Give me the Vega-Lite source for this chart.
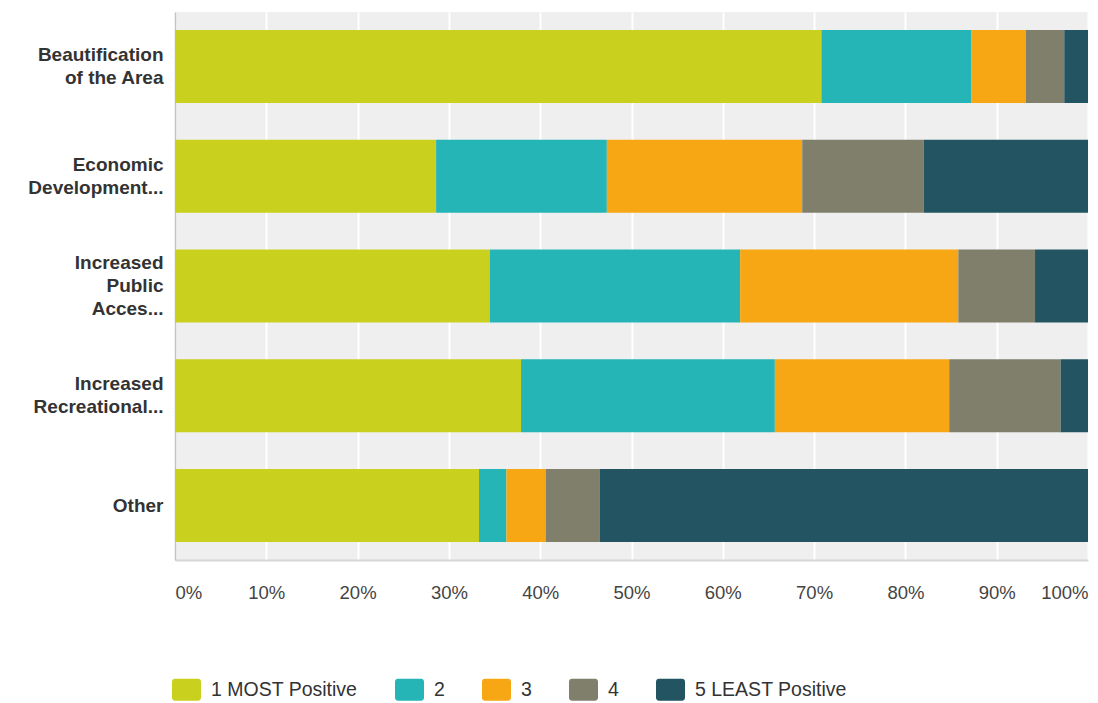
{
  "$schema": "https://vega.github.io/schema/vega-lite/v6.json",
  "width": 913,
  "height": 548,
  "autosize": {"type": "none"},
  "padding": {"left": 175, "top": 12, "right": 10, "bottom": 143},
  "background": "white",
  "data": {
    "values": [
      {"cat": "Beautification|of the Area", "rating": "1 MOST Positive", "pct": 70.8},
      {"cat": "Beautification|of the Area", "rating": "2", "pct": 16.4},
      {"cat": "Beautification|of the Area", "rating": "3", "pct": 6.0},
      {"cat": "Beautification|of the Area", "rating": "4", "pct": 4.2},
      {"cat": "Beautification|of the Area", "rating": "5 LEAST Positive", "pct": 2.6},
      {"cat": "Economic|Development...", "rating": "1 MOST Positive", "pct": 28.6},
      {"cat": "Economic|Development...", "rating": "2", "pct": 18.7},
      {"cat": "Economic|Development...", "rating": "3", "pct": 21.4},
      {"cat": "Economic|Development...", "rating": "4", "pct": 13.3},
      {"cat": "Economic|Development...", "rating": "5 LEAST Positive", "pct": 18.0},
      {"cat": "Increased|Public|Acces...", "rating": "1 MOST Positive", "pct": 34.5},
      {"cat": "Increased|Public|Acces...", "rating": "2", "pct": 27.4},
      {"cat": "Increased|Public|Acces...", "rating": "3", "pct": 23.9},
      {"cat": "Increased|Public|Acces...", "rating": "4", "pct": 8.4},
      {"cat": "Increased|Public|Acces...", "rating": "5 LEAST Positive", "pct": 5.8},
      {"cat": "Increased|Recreational...", "rating": "1 MOST Positive", "pct": 37.9},
      {"cat": "Increased|Recreational...", "rating": "2", "pct": 27.8},
      {"cat": "Increased|Recreational...", "rating": "3", "pct": 19.1},
      {"cat": "Increased|Recreational...", "rating": "4", "pct": 12.2},
      {"cat": "Increased|Recreational...", "rating": "5 LEAST Positive", "pct": 3.0},
      {"cat": "Other", "rating": "1 MOST Positive", "pct": 33.3},
      {"cat": "Other", "rating": "2", "pct": 3.0},
      {"cat": "Other", "rating": "3", "pct": 4.3},
      {"cat": "Other", "rating": "4", "pct": 5.9},
      {"cat": "Other", "rating": "5 LEAST Positive", "pct": 53.5}
    ]
  },
  "mark": {"type": "bar"},
  "encoding": {
    "y": {
      "field": "cat",
      "type": "nominal",
      "sort": null,
      "scale": {"paddingInner": 0.336, "paddingOuter": 0.164},
      "axis": {
        "title": null,
        "labelExpr": "split(datum.label, '|')",
        "labelFont": "Liberation Sans",
        "labelFontSize": 19,
        "labelFontWeight": "bold",
        "labelColor": "#333333",
        "labelLineHeight": 23,
        "labelPadding": 12,
        "ticks": false,
        "domainColor": "#c4c4c4",
        "domainWidth": 1.5,
        "labelLimit": 300,
        "labelOffset": {
          "condition": [
            {"test": "length(split(datum.value, '|')) == 3", "value": -23},
            {"test": "length(split(datum.value, '|')) == 2", "value": -11.5}
          ],
          "value": 0
        }
      }
    },
    "x": {
      "field": "pct",
      "type": "quantitative",
      "stack": "zero",
      "scale": {"domain": [0, 100], "nice": false},
      "axis": {
        "title": null,
        "values": [0, 10, 20, 30, 40, 50, 60, 70, 80, 90, 100],
        "labelExpr": "datum.value + '%'",
        "labelFont": "Liberation Sans",
        "labelFontSize": 18.5,
        "labelColor": "#444444",
        "labelFlush": true,
        "labelPadding": 23,
        "ticks": false,
        "grid": true,
        "gridColor": "#ffffff",
        "gridWidth": 2,
        "domainColor": "#d6d6d6",
        "domainWidth": 2
      }
    },
    "color": {
      "field": "rating",
      "type": "nominal",
      "scale": {
        "domain": ["1 MOST Positive", "2", "3", "4", "5 LEAST Positive"],
        "range": ["#c9d11e", "#26b5b7", "#f6a713", "#807f6c", "#225462"]
      },
      "legend": {
        "title": null,
        "orient": "none",
        "legendX": -3,
        "legendY": 663,
        "direction": "horizontal",
        "columns": 5,
        "columnPadding": 36,
        "padding": 0,
        "symbolType": "M -0.8,-0.76 L 0.8,-0.76 A 0.2 0.2 0 0 1 1 -0.56 L 1 0.56 A 0.2 0.2 0 0 1 0.8 0.76 L -0.8 0.76 A 0.2 0.2 0 0 1 -1 0.56 L -1 -0.56 A 0.2 0.2 0 0 1 -0.8 -0.76 Z",
        "symbolSize": 841,
        "symbolStrokeWidth": 0,
        "symbolOpacity": 1,
        "labelFont": "Liberation Sans",
        "labelFontSize": 19.5,
        "labelColor": "#333333",
        "labelOffset": 10,
        "labelLimit": 300
      }
    }
  },
  "config": {
    "view": {"fill": "#efefef", "stroke": null}
  }
}
